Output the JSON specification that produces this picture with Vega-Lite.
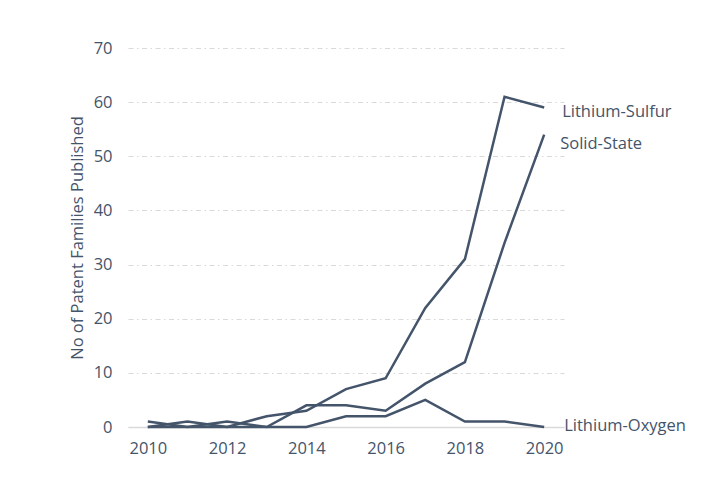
{
  "$schema": "https://vega.github.io/schema/vega-lite/v6.json",
  "autosize": "none",
  "width": 436,
  "height": 379,
  "padding": {"left": 128, "top": 48, "right": 150, "bottom": 60},
  "background": "white",
  "config": {
    "view": {"stroke": null},
    "font": "Open Sans",
    "text": {"font": "Open Sans"}
  },
  "data": {
    "values": [
      {"year": 2010, "series": "Lithium-Sulfur", "count": 0},
      {"year": 2011, "series": "Lithium-Sulfur", "count": 1},
      {"year": 2012, "series": "Lithium-Sulfur", "count": 0},
      {"year": 2013, "series": "Lithium-Sulfur", "count": 2},
      {"year": 2014, "series": "Lithium-Sulfur", "count": 3},
      {"year": 2015, "series": "Lithium-Sulfur", "count": 7},
      {"year": 2016, "series": "Lithium-Sulfur", "count": 9},
      {"year": 2017, "series": "Lithium-Sulfur", "count": 22},
      {"year": 2018, "series": "Lithium-Sulfur", "count": 31},
      {"year": 2019, "series": "Lithium-Sulfur", "count": 61},
      {"year": 2020, "series": "Lithium-Sulfur", "count": 59},
      {"year": 2010, "series": "Solid-State", "count": 1},
      {"year": 2011, "series": "Solid-State", "count": 0},
      {"year": 2012, "series": "Solid-State", "count": 1},
      {"year": 2013, "series": "Solid-State", "count": 0},
      {"year": 2014, "series": "Solid-State", "count": 4},
      {"year": 2015, "series": "Solid-State", "count": 4},
      {"year": 2016, "series": "Solid-State", "count": 3},
      {"year": 2017, "series": "Solid-State", "count": 8},
      {"year": 2018, "series": "Solid-State", "count": 12},
      {"year": 2019, "series": "Solid-State", "count": 34},
      {"year": 2020, "series": "Solid-State", "count": 54},
      {"year": 2010, "series": "Lithium-Oxygen", "count": 0},
      {"year": 2011, "series": "Lithium-Oxygen", "count": 0},
      {"year": 2012, "series": "Lithium-Oxygen", "count": 0},
      {"year": 2013, "series": "Lithium-Oxygen", "count": 0},
      {"year": 2014, "series": "Lithium-Oxygen", "count": 0},
      {"year": 2015, "series": "Lithium-Oxygen", "count": 2},
      {"year": 2016, "series": "Lithium-Oxygen", "count": 2},
      {"year": 2017, "series": "Lithium-Oxygen", "count": 5},
      {"year": 2018, "series": "Lithium-Oxygen", "count": 1},
      {"year": 2019, "series": "Lithium-Oxygen", "count": 1},
      {"year": 2020, "series": "Lithium-Oxygen", "count": 0}
    ]
  },
  "encoding": {
    "x": {
      "field": "year",
      "type": "quantitative",
      "scale": {"domain": [2009.5, 2020.5], "nice": false, "zero": false},
      "axis": {
        "title": null,
        "values": [2010, 2012, 2014, 2016, 2018, 2020],
        "format": "d",
        "grid": false,
        "ticks": false,
        "domain": true,
        "domainColor": "#D9D9D9",
        "domainWidth": 1.5,
        "labelFont": "Open Sans",
        "labelFontSize": 16.5,
        "labelColor": "#44546A",
        "labelPadding": 13
      }
    },
    "y": {
      "field": "count",
      "type": "quantitative",
      "scale": {"domain": [0, 70], "nice": false},
      "axis": {
        "title": "No of Patent Families Published",
        "titleFont": "Open Sans",
        "titleFontSize": 16.5,
        "titleFontWeight": "normal",
        "titleColor": "#44546A",
        "titlePadding": 8,
        "values": [0, 10, 20, 30, 40, 50, 60, 70],
        "grid": true,
        "gridColor": "#D9D9D9",
        "gridWidth": 1,
        "gridDash": [5, 3.5, 1.5, 3.5],
        "ticks": false,
        "domain": false,
        "labelFont": "Open Sans",
        "labelFontSize": 16.5,
        "labelColor": "#44546A",
        "labelPadding": 16
      }
    }
  },
  "layer": [
    {
      "mark": {"type": "line", "color": "#44546A", "strokeWidth": 2.5, "strokeJoin": "miter"},
      "encoding": {"detail": {"field": "series"}}
    },
    {
      "transform": [{"filter": "datum.year == 2020 && datum.series == 'Lithium-Sulfur'"}],
      "mark": {"type": "text", "align": "left", "baseline": "middle", "dx": 18, "dy": 4, "fontSize": 16.5, "color": "#44546A", "font": "Open Sans"},
      "encoding": {"text": {"field": "series"}}
    },
    {
      "transform": [{"filter": "datum.year == 2020 && datum.series == 'Solid-State'"}],
      "mark": {"type": "text", "align": "left", "baseline": "middle", "dx": 16, "dy": 9, "fontSize": 16.5, "color": "#44546A", "font": "Open Sans"},
      "encoding": {"text": {"field": "series"}}
    },
    {
      "transform": [{"filter": "datum.year == 2020 && datum.series == 'Lithium-Oxygen'"}],
      "mark": {"type": "text", "align": "left", "baseline": "middle", "dx": 20, "dy": -1, "fontSize": 16.5, "color": "#44546A", "font": "Open Sans"},
      "encoding": {"text": {"field": "series"}}
    }
  ]
}
